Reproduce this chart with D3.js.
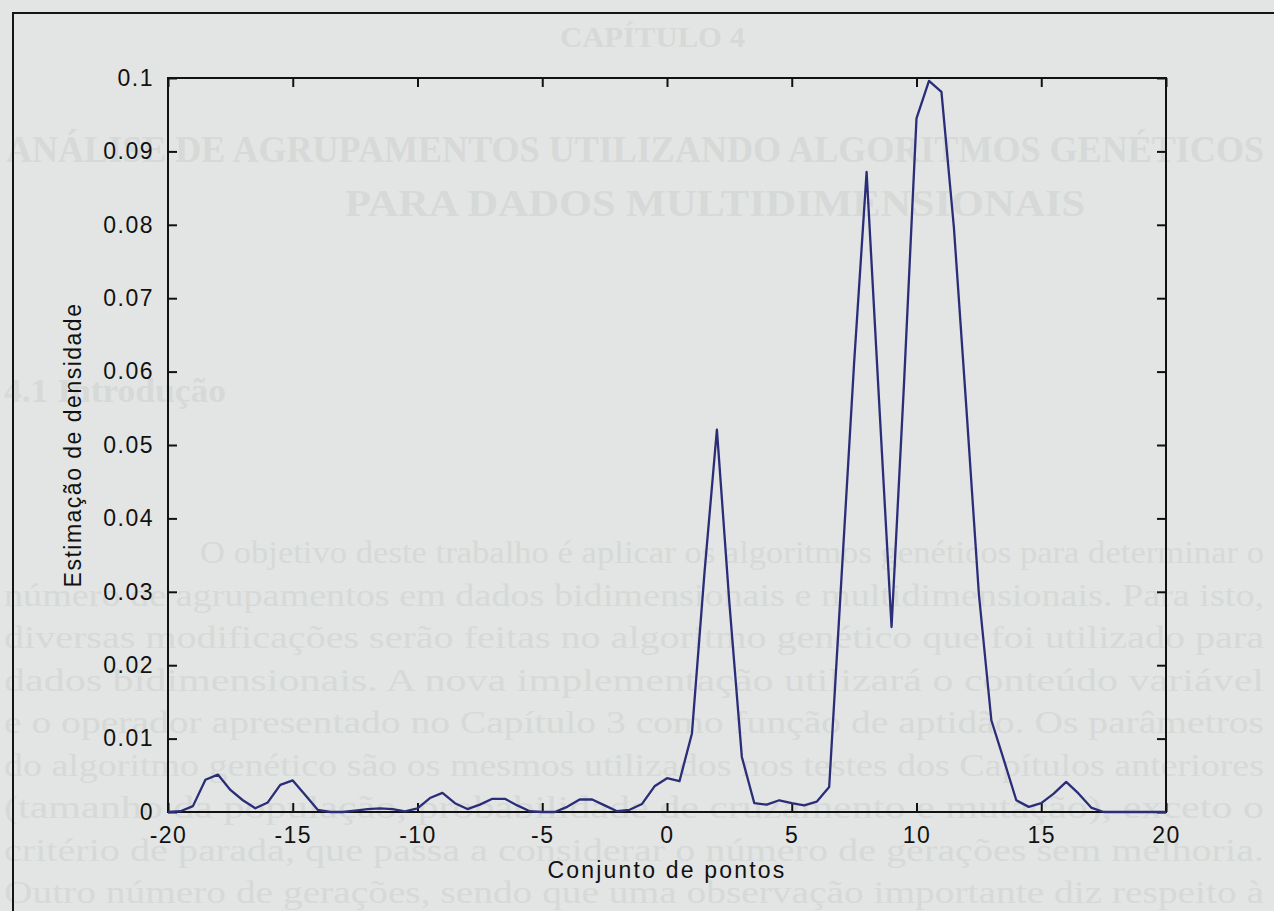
<!DOCTYPE html>
<html>
<head>
<meta charset="utf-8">
<script src="https://cdn.jsdelivr.net/npm/d3@7"></script>
<style>
    html, body { margin: 0; padding: 0; background: #e2e5e3; overflow: hidden; }
    #chart { width: 1274px; height: 911px; }
    .axis text { font-family: "Liberation Sans", Arial, sans-serif; font-size: 23px; fill: #111; letter-spacing: 1.5px; }
    .axis-label { font-family: "Liberation Sans", Arial, sans-serif; font-size: 23px; fill: #111; letter-spacing: 1.5px; }
    .page-text { font-family: "Liberation Serif", "Times New Roman", serif; fill: #d6d9d7; }
</style>
</head>
<body>
<div id="chart"></div>
<script>

// grid of x positions (step 0.5)
const xPoints = [
    -20, -19.5, -19, -18.5, -18, -17.5, -17, -16.5, -16, -15.5,
    -15, -14.5, -14, -13.5, -13, -12.5, -12, -11.5, -11, -10.5,
    -10, -9.5, -9, -8.5, -8, -7.5, -7, -6.5, -6, -5.5,
    -5, -4.5, -4, -3.5, -3, -2.5, -2, -1.5, -1, -0.5,
    0, 0.5, 1, 1.5, 2, 2.5, 3, 3.5, 4, 4.5,
    5, 5.5, 6, 6.5, 7, 7.5, 8, 8.5, 9, 9.5,
    10, 10.5, 11, 11.5, 12, 12.5, 13, 13.5, 14, 14.5,
    15, 15.5, 16, 16.5, 17, 17.5, 18, 18.5, 19, 19.5, 20
];

// density estimate
const densityValues = [
    0, 0.0001, 0.0008, 0.0044, 0.0051, 0.0030, 0.0016, 0.0005, 0.0013, 0.0037,
    0.0043, 0.0023, 0.0003, 0, 0, 0.0002, 0.0004, 0.0005, 0.0004, 0.0001,
    0.0005, 0.0019, 0.0026, 0.0012, 0.0004, 0.0010, 0.0018, 0.0018, 0.0009, 0.0001,
    0, 0, 0.0007, 0.0017, 0.0017, 0.0009, 0.0001, 0.0003, 0.0011, 0.0035,
    0.0046, 0.0042, 0.0107, 0.0325, 0.0521, 0.0285, 0.0075, 0.0012, 0.0010, 0.0016,
    0.0012, 0.0009, 0.0014, 0.0034, 0.0323, 0.0612, 0.0872, 0.0560, 0.0252, 0.0584,
    0.0945, 0.0996, 0.0981, 0.0796, 0.0550, 0.0297, 0.0125, 0.0071, 0.0016, 0.0007,
    0.0012, 0.0025, 0.0041, 0.0025, 0.0006, 0, 0, 0, 0, 0, 0
];

const xTicks = [-20, -15, -10, -5, 0, 5, 10, 15, 20];
const xTickLabels = ["-20", "-15", "-10", "-5", "0", "5", "10", "15", "20"];
const yTicks = [0, 0.01, 0.02, 0.03, 0.04, 0.05, 0.06, 0.07, 0.08, 0.09, 0.1];
const yTickLabels = ["0", "0.01", "0.02", "0.03", "0.04", "0.05", "0.06", "0.07", "0.08", "0.09", "0.1"];

const xAxisTitle = "Conjunto de pontos";
const yAxisTitle = "Estimação de densidade";

// faint text of the scanned page showing through
const pageHeadings = [
    "CAPÍTULO 4",
    "ANÁLISE DE AGRUPAMENTOS UTILIZANDO ALGORITMOS GENÉTICOS",
    "PARA DADOS MULTIDIMENSIONAIS",
    "4.1 Introdução"
];
const pageLines = [
    "O objetivo deste trabalho é aplicar os algoritmos genéticos para determinar o",
    "número de agrupamentos em dados bidimensionais e multidimensionais. Para isto,",
    "diversas modificações serão feitas no algoritmo genético que foi utilizado para",
    "dados bidimensionais. A nova implementação utilizará o conteúdo variável",
    "e o operador apresentado no Capítulo 3 como função de aptidão. Os parâmetros",
    "do algoritmo genético são os mesmos utilizados nos testes dos Capítulos anteriores",
    "(tamanho da população, probabilidade de cruzamento e mutação), exceto o",
    "critério de parada, que passa a considerar o número de gerações sem melhoria.",
    "Outro número de gerações, sendo que uma observação importante diz respeito à"
];


class DensityVis {

    constructor(parentElement, xs, ys) {
        this.parentElement = parentElement;
        this.data = xs.map((d, i) => ({x: d, y: ys[i]}));

        this.initVis()
    }

    initVis(){
        let vis = this

        vis.margin = {top: 78, right: 108, bottom: 99, left: 168};
        vis.width = 1274 - vis.margin.left - vis.margin.right;
        vis.height = 911 - vis.margin.top - vis.margin.bottom;

        vis.root = d3.select("#" + vis.parentElement)
            .append("svg")
            .attr("width", 1274)
            .attr("height", 911);

        vis.root.append("rect")
            .attr("width", 1274)
            .attr("height", 911)
            .attr("fill", "#e2e5e3");

        vis.drawPage();

        // outer figure frame (only top and left edges are in view)
        vis.root.append("path")
            .attr("d", "M13,911 L13,13 L1274,13")
            .attr("fill", "none")
            .attr("stroke", "#151515")
            .attr("stroke-width", 2);

        vis.svg = vis.root.append("g")
            .attr("transform", "translate(" + vis.margin.left + "," + vis.margin.top + ")");

        vis.x = d3.scaleLinear().domain([-20, 20]).range([0, vis.width]);
        vis.y = d3.scaleLinear().domain([0, 0.1]).range([vis.height, 0]);

        vis.initAxes();
        vis.wrangleData();
    }

    drawPage(){
        let vis = this

        // x, y, size, length
        let headPos = [[560, 47, 30, 185], [6, 162, 37, 1258], [345, 216, 38, 740], [4, 402, 34, 222]];
        vis.root.selectAll(".page-head")
            .data(pageHeadings)
            .enter()
            .append("text")
            .attr("class", "page-text page-head")
            .attr("x", (d, i) => headPos[i][0])
            .attr("y", (d, i) => headPos[i][1])
            .attr("textLength", (d, i) => headPos[i][3])
            .attr("lengthAdjust", "spacingAndGlyphs")
            .style("font-size", (d, i) => headPos[i][2] + "px")
            .style("font-weight", "bold")
            .text(d => d);

        vis.root.selectAll(".page-line")
            .data(pageLines)
            .enter()
            .append("text")
            .attr("class", "page-text page-line")
            .attr("x", (d, i) => i === 0 ? 200 : 4)
            .attr("y", (d, i) => 563 + i * 42.5)
            .attr("textLength", (d, i) => i === 0 ? 1064 : 1260)
            .attr("lengthAdjust", "spacingAndGlyphs")
            .style("font-size", "31px")
            .text(d => d);
    }

    initAxes(){
        let vis = this

        vis.xAxisBottom = d3.axisBottom(vis.x)
            .tickValues(xTicks)
            .tickFormat((d, i) => xTickLabels[i])
            .tickSizeInner(-9)
            .tickSizeOuter(0)
            .tickPadding(15);

        vis.xAxisTop = d3.axisTop(vis.x)
            .tickValues(xTicks)
            .tickFormat("")
            .tickSizeInner(-9)
            .tickSizeOuter(0);

        vis.yAxisLeft = d3.axisLeft(vis.y)
            .tickValues(yTicks)
            .tickFormat((d, i) => yTickLabels[i])
            .tickSizeInner(-9)
            .tickSizeOuter(0)
            .tickPadding(14);

        vis.yAxisRight = d3.axisRight(vis.y)
            .tickValues(yTicks)
            .tickFormat("")
            .tickSizeInner(-9)
            .tickSizeOuter(0);

        vis.svg.append("g").attr("class", "axis").attr("transform", "translate(0," + vis.height + ")").call(vis.xAxisBottom);
        vis.svg.append("g").attr("class", "axis").call(vis.xAxisTop);
        vis.svg.append("g").attr("class", "axis").call(vis.yAxisLeft);
        vis.svg.append("g").attr("class", "axis").attr("transform", "translate(" + vis.width + ",0)").call(vis.yAxisRight);

        vis.svg.selectAll(".axis .domain").remove();
        vis.svg.selectAll(".axis line")
            .attr("stroke", "#111")
            .attr("stroke-width", 2);

        // box round the plot
        vis.svg.append("rect")
            .attr("width", vis.width)
            .attr("height", vis.height)
            .attr("fill", "none")
            .attr("stroke", "#111")
            .attr("stroke-width", 2);

        vis.svg.append("text")
            .attr("class", "axis-label")
            .attr("x", vis.width / 2)
            .attr("y", vis.height + 66)
            .attr("text-anchor", "middle")
            .style("letter-spacing", "2.2px")
            .text(xAxisTitle);

        vis.svg.append("text")
            .attr("class", "axis-label")
            .attr("transform", "translate(" + (81 - vis.margin.left) + "," + (vis.height / 2) + ") rotate(-90)")
            .attr("text-anchor", "middle")
            .text(yAxisTitle);
    }

    wrangleData(){
        let vis = this;

        vis.updateVis();
    }

    updateVis(){
        let vis = this;

        vis.line = d3.line()
            .x(d => vis.x(d.x))
            .y(d => vis.y(d.y));

        vis.svg.append("path")
            .datum(vis.data)
            .attr("class", "density-line")
            .attr("d", vis.line)
            .attr("fill", "none")
            .attr("stroke", "#2a2d78")
            .attr("stroke-width", 2.3)
            .attr("stroke-linejoin", "round");
    }

}

new DensityVis("chart", xPoints, densityValues);

</script>
</body>
</html>
